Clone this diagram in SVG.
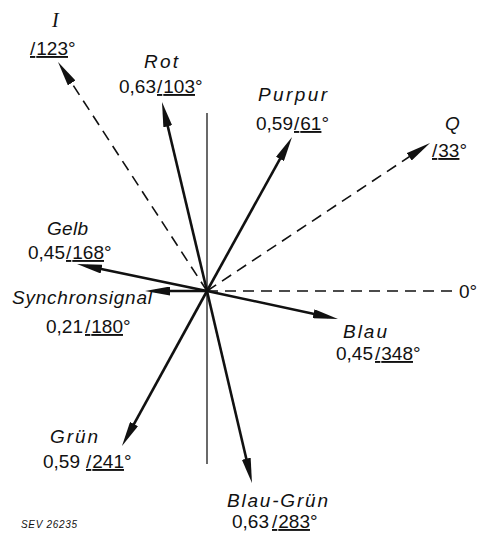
<svg xmlns="http://www.w3.org/2000/svg" width="477" height="541" viewBox="0 0 477 541">
  <style>
    .bg { fill: #ffffff; }
    .axis { stroke: #1a1a1a; stroke-width: 1.3; fill: none; }
    .vec { stroke: #111111; stroke-width: 2.6; fill: none; marker-end: url(#ah); }
    .dash { stroke: #111111; stroke-width: 1.6; fill: none; stroke-dasharray: 11 7; }
    .dash-arrow { marker-end: url(#ah); }
    .name { font-family: "Liberation Sans", "DejaVu Sans", sans-serif; font-style: italic; font-size: 19px; fill: #111111; }
    .sym { font-family: "Liberation Serif", "DejaVu Serif", serif; font-style: italic; font-size: 20px; fill: #111111; }
    .num { font-family: "Liberation Sans", "DejaVu Sans", sans-serif; font-size: 19px; fill: #111111; }
    .ang { text-decoration: underline; }
    .ref { font-family: "Liberation Sans", "DejaVu Sans", sans-serif; font-style: italic; font-size: 10px; fill: #111111; }
  </style>
  <defs>
    <marker id="ah" markerUnits="userSpaceOnUse" markerWidth="25" markerHeight="9" refX="15" refY="4.5" orient="auto">
      <path d="M0,0 L25,4.5 L0,9 z" fill="#111111"/>
    </marker>
  </defs>

  <rect class="bg" x="0" y="0" width="477" height="541"/>

  <!-- axes and phasors, all from the origin at (207,291) -->
  <g id="connectors">
    <line class="axis" x1="207" y1="113" x2="207" y2="464"/>
    <line class="dash" x1="207" y1="291" x2="455" y2="291" stroke-dasharray="12 6"/>
    <line class="dash dash-arrow" x1="207" y1="291" x2="63.5" y2="70.4"/>
    <line class="dash dash-arrow" x1="207" y1="291" x2="421.7" y2="148.5"/>
    <line class="vec" x1="207" y1="291" x2="164.3" y2="111.7"/>
    <line class="vec" x1="207" y1="291" x2="287.2" y2="145.8"/>
    <line class="vec" x1="207" y1="291" x2="86.8" y2="266.0"/>
    <line class="vec" x1="207" y1="291" x2="155" y2="291"/>
    <line class="vec" x1="207" y1="291" x2="328.2" y2="316.9"/>
    <line class="vec" x1="207" y1="291" x2="126.8" y2="437.2"/>
    <line class="vec" x1="207" y1="291" x2="249.7" y2="473.3"/>
  </g>

  <g id="axis-i">
    <text class="sym" x="52" y="27">I</text>
    <text class="num" x="30" y="55"><tspan class="ang">/<tspan dx="1">123</tspan></tspan>°</text>
  </g>

  <g id="rot">
    <text class="name" x="144" y="68" textLength="34" lengthAdjust="spacing">Rot</text>
    <text class="num" x="119" y="93">0,63<tspan class="ang" x="157">/<tspan dx="1">103</tspan></tspan>°</text>
  </g>

  <g id="purpur">
    <text class="name" x="258" y="101" textLength="69" lengthAdjust="spacing">Purpur</text>
    <text class="num" x="256" y="130">0,59<tspan class="ang" x="294">/<tspan dx="1">61</tspan></tspan>°</text>
  </g>

  <g id="axis-q">
    <text class="name" x="445" y="130">Q</text>
    <text class="num" x="432" y="157"><tspan class="ang">/<tspan dx="1">33</tspan></tspan>°</text>
  </g>

  <g id="gelb">
    <text class="name" x="47" y="235" textLength="41" lengthAdjust="spacing">Gelb</text>
    <text class="num" x="28" y="259">0,45<tspan class="ang" x="66">/<tspan dx="1">168</tspan></tspan>°</text>
  </g>

  <g id="synchronsignal">
    <text class="name" x="12" y="304" textLength="140" lengthAdjust="spacing">Synchronsignal</text>
    <text class="num" x="46" y="333">0,21<tspan class="ang" x="85">/<tspan dx="1">180</tspan></tspan>°</text>
  </g>

  <g id="axis-zero">
    <text class="num" x="459" y="298">0°</text>
  </g>

  <g id="blau">
    <text class="name" x="343" y="338" textLength="44" lengthAdjust="spacing">Blau</text>
    <text class="num" x="336" y="360">0,45<tspan class="ang" x="375">/<tspan dx="1">348</tspan></tspan>°</text>
  </g>

  <g id="gruen">
    <text class="name" x="50" y="443" textLength="48" lengthAdjust="spacing">Grün</text>
    <text class="num" x="43" y="468">0,59<tspan class="ang" x="86">/<tspan dx="1">241</tspan></tspan>°</text>
  </g>

  <g id="blau-gruen">
    <text class="name" x="227" y="507" textLength="101" lengthAdjust="spacing">Blau-Grün</text>
    <text class="num" x="232" y="528">0,63<tspan class="ang" x="272">/<tspan dx="1">283</tspan></tspan>°</text>
  </g>

  <g id="figure-ref">
    <text class="ref" x="21" y="528" textLength="56" lengthAdjust="spacing">SEV 26235</text>
  </g>
</svg>
